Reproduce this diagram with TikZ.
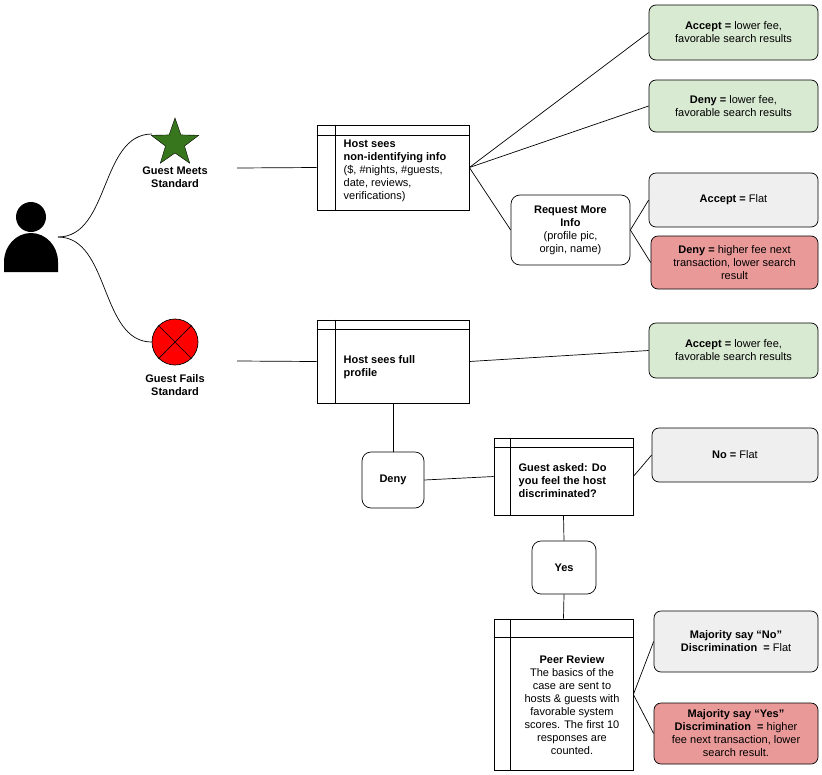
\documentclass[tikz,border=0pt]{standalone}
\usepackage{fontspec}
\setmainfont{Liberation Sans}
\usetikzlibrary{shapes.geometric}
\definecolor{okgreen}{HTML}{D9EAD3}
\definecolor{flatgray}{HTML}{EFEFEF}
\definecolor{badred}{HTML}{EA9999}
\definecolor{stargreen}{HTML}{38761D}
\begin{document}
\begin{tikzpicture}[x=1pt,y=-1pt,line width=0.7pt,font=\fontsize{11}{13}\selectfont]
\tikzset{store/.style={draw, rectangle, inner sep=0pt},
  outcome/.style={draw, rounded corners=7pt, minimum width=169pt, align=center},
  choice/.style={draw, rounded corners=9pt, align=center}}
\useasboundingbox (0,0) rectangle (822,774);
% guest
\fill (31,217) circle (15pt);
\fill (4,272) -- (4,262) arc[start angle=180,end angle=0,x radius=27pt,y radius=29pt] -- (58,272) -- cycle;
\coordinate (guest) at (58,237);
\node[star, star points=5, star point ratio=2.5, fill=stargreen, draw=black, line width=0.4pt, minimum size=50pt, inner sep=0pt] (meets) at (175,143) {};
\node[font=\fontsize{11}{13}\selectfont\bfseries, align=center] (meetslbl) at (175,177) {Guest Meets\\Standard};
\node[circle, fill=red, draw=black, minimum size=46pt, inner sep=0pt] (fails) at (175,342) {};
\draw (fails.45) -- (fails.225) (fails.135) -- (fails.315);
\node[font=\fontsize{11}{13}\selectfont\bfseries, align=center] (failslbl) at (175,385) {Guest Fails\\Standard};
\draw (guest) .. controls (110,237) and (100,134) .. (152,134);
\draw (guest) .. controls (110,237) and (100,342) .. (fails.west);
% host boxes
\node[store, minimum width=152pt, minimum height=85pt] (b1) at (393,167.5) {};
\node[align=left, anchor=north west] at (340,136) {\textbf{Host sees}\\\textbf{non-identifying info}\\(\$, \#nights, \#guests,\\date, reviews,\\verifications)};
\node[store, minimum width=152pt, minimum height=83pt] (b2) at (393,361.5) {};
\node[align=left, anchor=west] at (340,367) {\textbf{Host sees full}\\\textbf{profile}};
\node[store, minimum width=139pt, minimum height=77pt] (b3) at (563.5,476.5) {};
\node[align=left, anchor=west] at (515,481) {\textbf{Guest asked: Do}\\\textbf{you feel the host}\\\textbf{discriminated?}};
\node[store, minimum width=139pt, minimum height=151pt] (b4) at (563.5,694.5) {};
\node[align=center] at (572,705) {\textbf{Peer Review}\\The basics of the\\case are sent to\\hosts \& guests with\\favorable system\\scores. The first 10\\responses are\\counted.};
\foreach \b/\dx/\dy in {b1/19/11,b2/19/10,b3/17/10,b4/17/19}
  {
   \draw ([xshift=\dx pt]\b.north west) -- ([xshift=\dx pt]\b.south west);
   \draw ([yshift=-\dy pt]\b.north west) -- ([yshift=-\dy pt]\b.north east);
  }
\coordinate (m1) at (237,168);
\coordinate (m2) at (237,361);
\draw (m1) -- (b1.west);
\draw (m2) -- (b2.west);
% choices
\node[choice, minimum width=119pt, minimum height=70pt] (more) at (570.5,230) {\textbf{Request More}\\\textbf{Info}\\(profile pic,\\orgin, name)};
\node[choice, minimum width=62pt, minimum height=56pt] (deny) at (393,480) {\textbf{Deny}};
\node[choice, minimum width=64pt, minimum height=53pt] (yes) at (564,567.5) {\textbf{Yes}};
% outcomes
\node[outcome, fill=okgreen, minimum height=55pt] (acc1) at (733.5,32.5) {\textbf{Accept =} lower fee,\\favorable search results};
\node[outcome, fill=okgreen, minimum height=52pt] (den1) at (733.5,106) {\textbf{Deny =} lower fee,\\favorable search results};
\node[outcome, fill=flatgray, minimum height=54pt] (acc2) at (733.5,200) {\textbf{Accept =} Flat};
\node[outcome, fill=badred, minimum height=53pt, minimum width=167pt] (den2) at (734.5,262.5) {\textbf{Deny =} higher fee next\\transaction, lower search\\result};
\node[outcome, fill=okgreen, minimum height=55pt] (acc3) at (733.5,350.5) {\textbf{Accept =} lower fee,\\favorable search results};
\node[outcome, fill=flatgray, minimum height=54pt, minimum width=166pt] (no) at (735,455) {\textbf{No =} Flat};
\node[outcome, fill=flatgray, minimum height=61pt, minimum width=164pt] (majno) at (736,641.5) {\textbf{Majority say “No”}\\\textbf{Discrimination\ \ =} Flat};
\node[outcome, fill=badred, minimum height=61pt, minimum width=164pt] (majyes) at (736,733.5) {\textbf{Majority say “Yes”}\\\textbf{Discrimination\ \ =} higher\\fee next transaction, lower\\search result.};
% connectors
\draw (b1.east) -- (acc1.west);
\draw (b1.east) -- (den1.west);
\draw (b1.east) -- (more.west);
\draw (more.east) -- (acc2.west);
\draw (more.east) -- (den2.west);
\draw (b2.east) -- (acc3.west);
\draw (b2.south) -- (deny.north);
\draw (deny.east) -- (b3.west);
\draw (b3.east) -- (no.west);
\draw (b3.south) -- (yes.north);
\draw (yes.south) -- (b4.north);
\draw (b4.east) -- (majno.west);
\draw (b4.east) -- (majyes.west);
\end{tikzpicture}
\end{document}
